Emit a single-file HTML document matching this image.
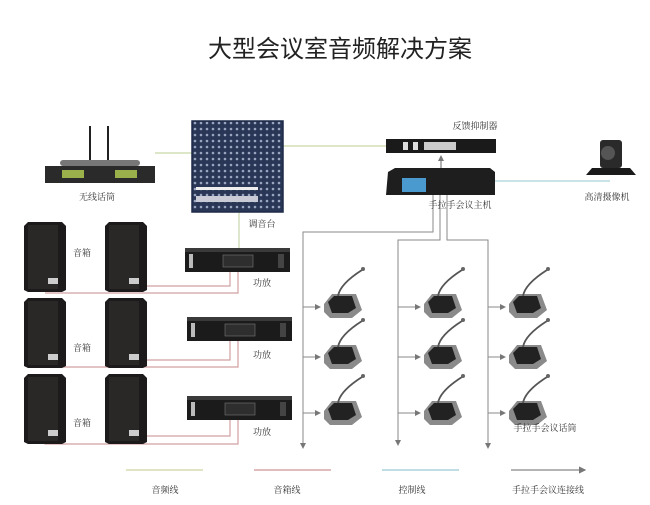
<!DOCTYPE html>
<html><head><meta charset="utf-8"><style>
html,body{margin:0;padding:0;background:#fff;}
svg{display:block;font-family:"Liberation Serif","Noto Serif CJK SC",serif;}
</style></head><body>
<svg width="650" height="505" viewBox="0 0 650 505" xmlns="http://www.w3.org/2000/svg">
<defs>
<marker id="ar" markerWidth="6" markerHeight="6" refX="5" refY="3" orient="auto"><path d="M0,0 L6,3 L0,6z" fill="#777"/></marker>
<pattern id="knobs" width="6" height="6" patternUnits="userSpaceOnUse"><rect width="6" height="6" fill="#2a3656"/><circle cx="3" cy="3" r="1.3" fill="#9aa6c0"/></pattern>
<g id="spk"><path d="M0,4 L4,0 L38,0 L42,4 L42,68 L38,70 L4,70 L0,68z" fill="#1c1a1a"/><rect x="4" y="3" width="30" height="64" fill="#2a2727"/><rect x="24" y="56" width="10" height="6" fill="#ccc"/></g>
<g id="amp"><rect x="0" y="0" width="105" height="24" fill="#1b1b1b"/><rect x="0" y="0" width="105" height="4" fill="#3a3a3a"/><rect x="4" y="6" width="4" height="14" fill="#bbb"/><rect x="38" y="7" width="30" height="12" fill="#2e2e2e" stroke="#777" stroke-width="0.6"/><rect x="93" y="6" width="6" height="14" fill="#444"/></g>
<g id="mic"><path d="M2,22 L10,12 L34,12 L40,28 L30,36 L8,36 L2,30z" fill="#8a8a8a"/><path d="M6,20 L12,14 L30,14 L34,26 L26,31 L10,31z" fill="#222"/><path d="M16,14 Q18,2 40,-12" stroke="#555" stroke-width="1.8" fill="none"/><circle cx="41" cy="-13" r="2" fill="#666"/></g>
</defs>
<text x="340" y="57" font-size="24" text-anchor="middle" fill="#222" font-family="Liberation Sans,'Noto Sans CJK SC',sans-serif">大型会议室音频解决方案</text>

<line x1="155" y1="153" x2="192" y2="153" stroke="#c9d6a8" stroke-width="1.2"/>
<line x1="283" y1="146" x2="388" y2="146" stroke="#c9d6a8" stroke-width="1.2"/>
<line x1="239" y1="212" x2="239" y2="248" stroke="#c9d6a8" stroke-width="1.2"/>
<line x1="495" y1="181" x2="610" y2="181" stroke="#a9d2d8" stroke-width="1.2"/>
<line x1="441" y1="168" x2="441" y2="156" stroke="#666" stroke-width="1" marker-end="url(#ar)"/>

<g stroke="#d2a0a0" stroke-width="1.2" fill="none">
<path d="M238,272 V293 H45"/><path d="M230,272 V286 H127 V280"/>
<path d="M238,341 V367 H45 V362"/><path d="M230,341 V360 H127 V355"/>
<path d="M238,420 V444 H45 V440"/><path d="M230,420 V436 H127 V432"/>
</g>

<g stroke="#888" stroke-width="1" fill="none">
<path d="M433,195 V232 H303 V448" marker-end="url(#ar)"/>
<path d="M440,195 V240 H398 V445" marker-end="url(#ar)"/>
<path d="M447,195 V240 H488 V448" marker-end="url(#ar)"/>
<path d="M303,307 H320" marker-end="url(#ar)"/><path d="M303,357 H320" marker-end="url(#ar)"/><path d="M303,413 H320" marker-end="url(#ar)"/>
<path d="M398,307 H420" marker-end="url(#ar)"/><path d="M398,357 H420" marker-end="url(#ar)"/><path d="M398,413 H420" marker-end="url(#ar)"/>
<path d="M488,307 H505" marker-end="url(#ar)"/><path d="M488,357 H505" marker-end="url(#ar)"/><path d="M488,413 H505" marker-end="url(#ar)"/>
</g>

<line x1="90" y1="126" x2="90" y2="162" stroke="#222" stroke-width="2"/>
<line x1="108" y1="126" x2="108" y2="162" stroke="#222" stroke-width="2"/>
<rect x="60" y="160" width="80" height="6" rx="3" fill="#777"/>
<rect x="45" y="166" width="110" height="17" fill="#2a2a2a"/>
<rect x="62" y="170" width="22" height="8" fill="#9ab04a"/><rect x="115" y="170" width="22" height="8" fill="#9ab04a"/>
<text x="97" y="200" font-size="9" text-anchor="middle" fill="#333">无线话筒</text>

<rect x="192" y="121" width="91" height="91" fill="url(#knobs)"/>
<rect x="192" y="121" width="91" height="91" fill="none" stroke="#1d2a48" stroke-width="1.5"/>
<rect x="196" y="187" width="62" height="3" fill="#eee"/>
<rect x="196" y="196" width="62" height="6" fill="#c8cbd6"/>
<text x="262" y="227" font-size="9" text-anchor="middle" fill="#333">调音台</text>

<text x="475" y="129" font-size="9" text-anchor="middle" fill="#333">反馈抑制器</text>
<rect x="386" y="139" width="110" height="14" fill="#1a1a1a"/>
<rect x="424" y="142" width="32" height="8" fill="#ccc"/><rect x="403" y="142" width="5" height="8" fill="#ddd"/><rect x="413" y="142" width="5" height="8" fill="#ddd"/>
<path d="M388,172 L395,168 L490,168 L495,172 L495,195 L386,195z" fill="#1e1e1e"/>
<rect x="402" y="178" width="24" height="14" fill="#4a9ad0"/>
<text x="460" y="208" font-size="9" text-anchor="middle" fill="#333">手拉手会议主机</text>

<rect x="600" y="140" width="22" height="28" rx="3" fill="#2a2a2a"/><circle cx="608" cy="153" r="7" fill="#555"/>
<path d="M586,175 L592,168 L630,168 L636,175z" fill="#1a1a1a"/>
<text x="607" y="200" font-size="9" text-anchor="middle" fill="#333">高清摄像机</text>

<use href="#spk" x="24" y="222"/><use href="#spk" x="105" y="222"/>
<use href="#spk" x="24" y="298"/><use href="#spk" x="105" y="298"/>
<use href="#spk" x="24" y="374"/><use href="#spk" x="105" y="374"/>
<text x="82" y="256" font-size="9" text-anchor="middle" fill="#333">音箱</text>
<text x="82" y="351" font-size="9" text-anchor="middle" fill="#333">音箱</text>
<text x="82" y="426" font-size="9" text-anchor="middle" fill="#333">音箱</text>
<use href="#amp" x="185" y="248"/><use href="#amp" x="187" y="317"/><use href="#amp" x="187" y="396"/>
<text x="262" y="286" font-size="9" text-anchor="middle" fill="#333">功放</text>
<text x="262" y="358" font-size="9" text-anchor="middle" fill="#333">功放</text>
<text x="262" y="435" font-size="9" text-anchor="middle" fill="#333">功放</text>

<use href="#mic" x="322" y="282"/><use href="#mic" x="322" y="333"/><use href="#mic" x="322" y="389"/>
<use href="#mic" x="422" y="282"/><use href="#mic" x="422" y="333"/><use href="#mic" x="422" y="389"/>
<use href="#mic" x="507" y="282"/><use href="#mic" x="507" y="333"/><use href="#mic" x="507" y="389"/>
<text x="545" y="431" font-size="9" text-anchor="middle" fill="#333">手拉手会议话筒</text>

<line x1="126" y1="470" x2="203" y2="470" stroke="#d6dcae" stroke-width="1.5"/>
<line x1="254" y1="470" x2="331" y2="470" stroke="#d8a6a6" stroke-width="1.5"/>
<line x1="382" y1="470" x2="459" y2="470" stroke="#a9d2dc" stroke-width="1.5"/>
<line x1="511" y1="470" x2="585" y2="470" stroke="#888" stroke-width="1.2" marker-end="url(#ar)"/>
<text x="165" y="493" font-size="9" text-anchor="middle" fill="#333">音频线</text>
<text x="287" y="493" font-size="9" text-anchor="middle" fill="#333">音箱线</text>
<text x="412" y="493" font-size="9" text-anchor="middle" fill="#333">控制线</text>
<text x="548" y="493" font-size="9" text-anchor="middle" fill="#333">手拉手会议连接线</text>
</svg>
</body></html>
